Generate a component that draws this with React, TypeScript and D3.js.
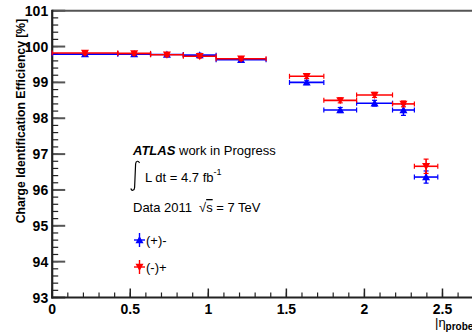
import * as d3 from 'd3'

// eta bins (|eta_probe|)
const binLo = [0, 0.42, 0.63, 0.84, 1.05, 1.52, 1.74, 1.95, 2.18, 2.32]
const binHi = [0.42, 0.63, 0.84, 1.05, 1.37, 1.74, 1.95, 2.18, 2.32, 2.47]

// (+)- series
const effPM = [99.79, 99.79, 99.78, 99.76, 99.63, 99.0, 98.23, 98.42, 98.23, 96.36]
const errPM = [0.06, 0.05, 0.05, 0.05, 0.05, 0.06, 0.07, 0.08, 0.15, 0.17]

// (-)+ series
const effMP = [99.82, 99.81, 99.77, 99.73, 99.66, 99.17, 98.5, 98.65, 98.4, 96.66]
const errMP = [0.05, 0.05, 0.05, 0.05, 0.05, 0.06, 0.07, 0.07, 0.08, 0.2]

const xTicks = [0, 0.5, 1, 1.5, 2, 2.5]
const xTickLabels = ['0', '0.5', '1', '1.5', '2', '2.5']
const yTicks = [93, 94, 95, 96, 97, 98, 99, 100, 101]

const W = 472
const H = 332
const font = '"Liberation Sans", Arial, Helvetica, sans-serif'

export default function App() {
  const x = d3.scaleLinear().domain([0, 2.7]).range([52.2, 473.7])
  const y = d3.scaleLinear().domain([93, 101]).range([297.5, 10.7])

  const xMinor = d3.range(0, 2.71, 0.1)
  const yMinor = d3.range(93, 101.01, 0.2)

  const series = [
    { vals: effPM, errs: errPM, color: '#0000ff', up: true },
    { vals: effMP, errs: errMP, color: '#ff0000', up: false },
  ]

  const tri = (cx: number, cy: number, up: boolean, s = 4) =>
    up
      ? `M${cx},${cy - s} L${cx + s},${cy + s * 0.8} L${cx - s},${cy + s * 0.8} Z`
      : `M${cx},${cy + s} L${cx + s},${cy - s * 0.8} L${cx - s},${cy - s * 0.8} Z`

  return (
    <svg width={W} height={H} style={{ position: 'absolute', left: 0, top: 0, background: '#fff' }}
      fontFamily={font}>
      {/* frame */}
      <line x1={x(0)} x2={x(2.7)} y1={y(101)} y2={y(101)} stroke="#555" strokeWidth={2} />
      <line x1={x(2.7)} x2={x(2.7)} y1={y(101)} y2={y(93)} stroke="#555" strokeWidth={2} />

      {/* y minor + major ticks */}
      {yMinor.map((v, i) => (
        <line key={'ym' + i} x1={x(0)} x2={x(0) + 6} y1={y(v)} y2={y(v)} stroke="#222" strokeWidth={1.2} />
      ))}
      {yTicks.map(v => (
        <line key={'yM' + v} x1={x(0)} x2={x(0) + 13} y1={y(v)} y2={y(v)} stroke="#555" strokeWidth={2} />
      ))}
      {/* x minor + major ticks */}
      {xMinor.map((v, i) => (
        <line key={'xm' + i} x1={x(v)} x2={x(v)} y1={y(93)} y2={y(93) - 5} stroke="#222" strokeWidth={1.2} />
      ))}
      {xTicks.map(v => (
        <line key={'xM' + v} x1={x(v)} x2={x(v)} y1={y(93)} y2={y(93) - 9} stroke="#222" strokeWidth={1.5} />
      ))}

      {/* axes */}
      <line x1={x(0)} x2={x(0)} y1={y(101) - 1} y2={y(93) + 1} stroke="#222" strokeWidth={2.2} />
      <line x1={x(0) - 1} x2={x(2.7)} y1={y(93)} y2={y(93)} stroke="#222" strokeWidth={2.2} />

      {/* tick labels */}
      {yTicks.map(v => (
        <text key={'yl' + v} x={x(0) - 4} y={y(v) + 5} textAnchor="end" fontSize={14} fontWeight="bold" fill="#000">
          {v}
        </text>
      ))}
      {xTicks.map((v, i) => (
        <text key={'xl' + v} x={x(v)} y={y(93) + 16} textAnchor="middle" fontSize={14} fontWeight="bold" fill="#000">
          {xTickLabels[i]}
        </text>
      ))}

      {/* axis titles */}
      <text transform="translate(25,121) rotate(-90)" textAnchor="middle" fontSize={12.2} fontWeight="bold" fill="#000">
        Charge Identification Efficiency [%]
      </text>
      <text x={435} y={327} fontSize={13} fill="#000">
        |η<tspan fontSize={10} fontWeight="bold" dy={3}>probe</tspan><tspan dy={-3}>|</tspan>
      </text>

      {/* data */}
      {series.map((s, si) => (
        <g key={'s' + si} stroke={s.color} fill={s.color}>
          {s.vals.map((v, i) => {
            const cx = x((binLo[i] + binHi[i]) / 2)
            const cy = y(v)
            return (
              <g key={i}>
                <line x1={x(binLo[i])} x2={x(binHi[i])} y1={cy} y2={cy} strokeWidth={1.6} />
                <line x1={x(binLo[i])} x2={x(binLo[i])} y1={cy - 2.5} y2={cy + 2.5} strokeWidth={1.2} />
                <line x1={x(binHi[i])} x2={x(binHi[i])} y1={cy - 2.5} y2={cy + 2.5} strokeWidth={1.2} />
                <line x1={cx} x2={cx} y1={y(v + s.errs[i])} y2={y(v - s.errs[i])} strokeWidth={1.6} />
                <line x1={cx - 2.5} x2={cx + 2.5} y1={y(v + s.errs[i])} y2={y(v + s.errs[i])} strokeWidth={1.2} />
                <line x1={cx - 2.5} x2={cx + 2.5} y1={y(v - s.errs[i])} y2={y(v - s.errs[i])} strokeWidth={1.2} />
                <path d={tri(cx, cy, s.up)} stroke="none" />
              </g>
            )
          })}
        </g>
      ))}

      {/* labels */}
      <text x={133} y={155} fontSize={13} fill="#000">
        <tspan fontWeight="bold" fontStyle="italic">ATLAS</tspan> work in Progress
      </text>
      {/* integral sign */}
      <path d="M139.5,163 C138.5,160.5 135.8,160.5 135.6,164 L134.6,187.5 C134.4,191 131.6,191 130.8,188.5"
        fill="none" stroke="#000" strokeWidth={1.2} />
      <text x={145} y={182} fontSize={13} fill="#000">
        L dt = 4.7 fb<tspan fontSize={9} dy={-7}>-1</tspan>
      </text>
      <text x={133} y={212} fontSize={13} fill="#000">
        Data 2011<tspan dx={7}>√</tspan><tspan textDecoration="overline">s</tspan> = 7 TeV
      </text>

      {/* legend */}
      {series.map((s, si) => {
        const ly = 240 + si * 27
        return (
          <g key={'lg' + si}>
            <line x1={134} x2={145} y1={ly} y2={ly} stroke={s.color} strokeWidth={1.4} />
            <line x1={139.5} x2={139.5} y1={ly - 7} y2={ly + 7} stroke={s.color} strokeWidth={1.4} />
            <path d={tri(139.5, ly, s.up)} fill={s.color} />
            <text x={146} y={ly + 5} fontSize={13} fill="#000">{si === 0 ? '(+)-' : '(-)+'}</text>
          </g>
        )
      })}
    </svg>
  )
}
